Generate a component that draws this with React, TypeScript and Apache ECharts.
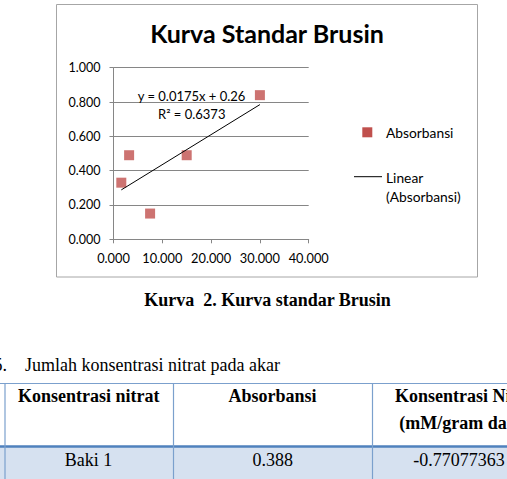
import React, { useEffect, useRef } from "react";
import * as echarts from "echarts";

// ---- data ----
const concentrations = [1.6, 3.2, 7.5, 15, 30];
const absorbances = [0.33, 0.49, 0.15, 0.49, 0.84];
const trendSlope = [0.0175];
const trendIntercept = [0.26];
const rSquared = ["0.6373"];
const xTicks = [0, 10, 20, 30, 40];
const yTicks = [0, 0.2, 0.4, 0.6, 0.8, 1.0];
const chartTitle = "Kurva Standar Brusin";
const seriesName = "Absorbansi";
const trendName = "Linear (Absorbansi)";
const captionText = "Kurva  2. Kurva standar Brusin";
const sectionNumber = "5.";
const sectionText = "Jumlah konsentrasi nitrat pada akar";
const tableHeaders = ["Konsentrasi nitrat", "Absorbansi", "Konsentrasi Nitrat"];
const tableHeaderUnit = "(mM/gram daun)";
const tableRow = ["Baki 1", "0.388", "-0.77077363"];

const SANS = "Lato, sans-serif";
const SERIF = "Liberation Serif, serif";

export default function App() {
  const ref = useRef<HTMLDivElement>(null);
  useEffect(() => {
    if (!ref.current) return;
    const chart = echarts.init(ref.current, null, { renderer: "svg" });
    const xMin = Math.min(...concentrations);
    const xMax = Math.max(...concentrations);
    const a = trendSlope[0];
    const b = trendIntercept[0];
    const fmt = (v: number) => v.toFixed(3);
    const blue = "#7BA0CD";
    const serifText = (x: number, y: number, text: string, align: string, bold = false) => ({
      type: "text",
      x,
      y,
      style: {
        text,
        fontFamily: SERIF,
        fontSize: 18,
        fontWeight: bold ? "bold" : "normal",
        fill: "#000",
        align,
        verticalAlign: "middle",
      },
    });
    const sansText = (x: number, y: number, text: string, size: number, bold = false, align = "left") => ({
      type: "text",
      x,
      y,
      z: 10,
      style: {
        text,
        fontFamily: SANS,
        fontSize: size,
        fontWeight: bold ? "bold" : "normal",
        fill: "#000",
        align,
        verticalAlign: "middle",
      },
    });
    chart.setOption({
      animation: false,
      backgroundColor: "#ffffff",
      grid: { left: 113.5, top: 67.7, width: 195.2, height: 171.6, containLabel: false },
      xAxis: {
        type: "value",
        min: xTicks[0],
        max: xTicks[xTicks.length - 1],
        interval: xTicks[1] - xTicks[0],
        axisLine: { show: true, lineStyle: { color: "#868686", width: 1 } },
        axisTick: { show: true, inside: false, length: 4, lineStyle: { color: "#868686" } },
        axisLabel: { formatter: fmt, color: "#000", fontFamily: SANS, fontSize: 12.8, margin: 12 },
        splitLine: { show: false },
      },
      yAxis: {
        type: "value",
        min: yTicks[0],
        max: yTicks[yTicks.length - 1],
        interval: 0.2,
        axisLine: { show: true, lineStyle: { color: "#868686", width: 1 } },
        axisTick: { show: true, inside: false, length: 4, lineStyle: { color: "#868686" } },
        axisLabel: { formatter: fmt, color: "#000", fontFamily: SANS, fontSize: 12.5, margin: 13 },
        splitLine: { show: true, lineStyle: { color: "#868686", width: 1 } },
      },
      series: [
        {
          name: trendName,
          type: "line",
          data: [
            [xMin, a * xMin + b],
            [xMax, a * xMax + b],
          ],
          symbol: "none",
          lineStyle: { color: "#000", width: 1 },
          z: 3,
        },
        {
          name: seriesName,
          type: "scatter",
          data: concentrations.map((x, i) => [x, absorbances[i]]),
          symbol: "rect",
          symbolSize: 10,
          itemStyle: { color: "#C0504D" },
          z: 2,
        },
      ],
      graphic: [
        // chart frame
        { type: "rect", shape: { x: 56.5, y: 4.5, width: 421, height: 272.5 }, style: { fill: "none", stroke: "#A6A6A6", lineWidth: 1 }, z: -10 },
        sansText(267, 33, chartTitle, 25, true, "center"),
        sansText(137.7, 96, `y = ${a}x + ${b}`, 13),
        sansText(158, 114, `R² = ${rSquared[0]}`, 13),
        // legend
        { type: "rect", shape: { x: 362.3, y: 127.3, width: 10, height: 10 }, style: { fill: "#C0504D" } },
        sansText(386, 132.5, seriesName, 13.8),
        { type: "line", shape: { x1: 354, y1: 176.7, x2: 382, y2: 176.7 }, style: { stroke: "#000", lineWidth: 1 } },
        sansText(386, 177, "Linear", 13.8),
        sansText(386, 196, "(Absorbansi)", 13.8),
        // caption
        serifText(267.5, 300, captionText, "center", true),
        serifText(7, 364.5, sectionNumber, "right"),
        serifText(25, 364.5, sectionText, "left"),
        // table
        { type: "rect", shape: { x: 0, y: 447, width: 507, height: 32 }, style: { fill: "#D6E1F0" } },
        { type: "line", shape: { x1: 0, y1: 383.5, x2: 507, y2: 383.5 }, style: { stroke: blue, lineWidth: 1.2 } },
        { type: "line", shape: { x1: 0, y1: 446.5, x2: 507, y2: 446.5 }, style: { stroke: "#4F81BD", lineWidth: 2.5 } },
        { type: "line", shape: { x1: 5, y1: 383.5, x2: 5, y2: 479 }, style: { stroke: blue, lineWidth: 1.2 } },
        { type: "line", shape: { x1: 173.5, y1: 383.5, x2: 173.5, y2: 479 }, style: { stroke: blue, lineWidth: 1.2 } },
        { type: "line", shape: { x1: 372.5, y1: 383.5, x2: 372.5, y2: 479 }, style: { stroke: blue, lineWidth: 1.2 } },
        serifText(88.8, 395.5, tableHeaders[0], "center", true),
        serifText(272.5, 395.5, tableHeaders[1], "center", true),
        serifText(395, 395.5, tableHeaders[2], "left", true),
        serifText(399.3, 423, tableHeaderUnit, "left", true),
        serifText(88.5, 460, tableRow[0], "center"),
        serifText(272.7, 460, tableRow[1], "center"),
        serifText(413.3, 460, tableRow[2], "left"),
      ],
    });
    return () => chart.dispose();
  }, []);
  return (
    <div
      ref={ref}
      style={{ position: "absolute", left: 0, top: 0, width: 507, height: 479, background: "#fff" }}
    />
  );
}
